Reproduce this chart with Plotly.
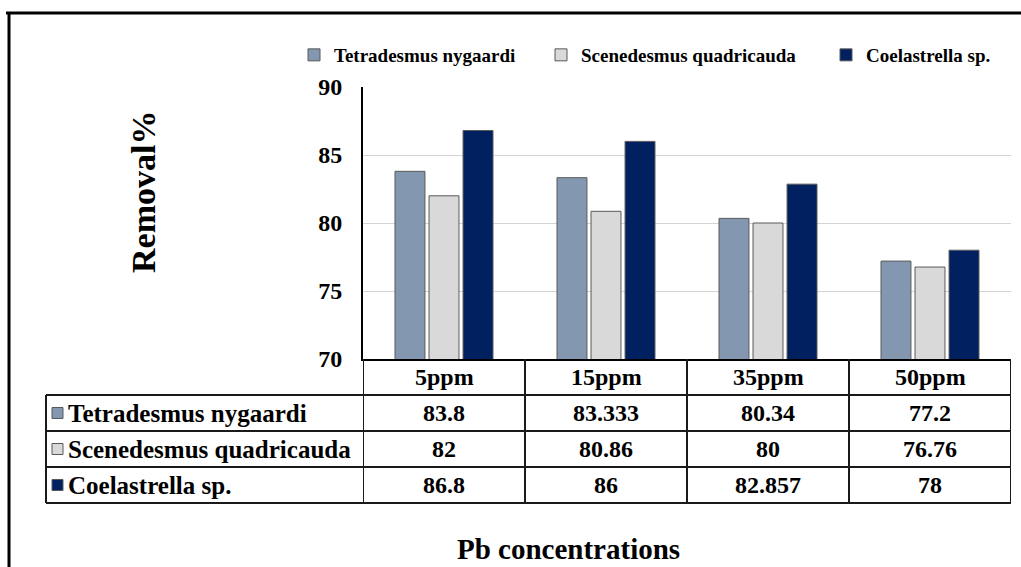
import plotly.graph_objects as go

# ---------------- data ----------------
categories = ["5ppm", "15ppm", "35ppm", "50ppm"]
series_names = ["Tetradesmus nygaardi", "Scenedesmus quadricauda", "Coelastrella sp."]
tetradesmus = [83.8, 83.333, 80.34, 77.2]
scenedesmus = [82, 80.86, 80, 76.76]
coelastrella = [86.8, 86, 82.857, 78]
y_ticks = [70, 75, 80, 85, 90]

series_values = [tetradesmus, scenedesmus, coelastrella]
colors = ["#8497B0", "#D9D9D9", "#002060"]
outline = "#595959"
FONT = "Liberation Serif"

W, H = 1021, 567


def px(xp):
    return xp / W


def py(yp):
    return 1 - yp / H


fig = go.Figure()
legend_widths = [202, 240, 150]
for name, vals, col, lw in zip(series_names, series_values, colors, legend_widths):
    fig.add_trace(go.Bar(
        x=categories, y=vals, name=name,
        marker=dict(color=col, line=dict(color=outline, width=1)),
        legendwidth=lw,
    ))

plot_left, plot_right = 363, 1011
plot_top, plot_bottom = 87, 359

fig.update_layout(
    width=W, height=H, autosize=False,
    margin=dict(l=0, r=0, t=0, b=0, pad=0, autoexpand=False),
    paper_bgcolor="white", plot_bgcolor="white",
    barmode="group", bargap=0.37, bargroupgap=0.12,
    showlegend=True,
    legend=dict(
        orientation="h", x=px(294), y=py(55), xanchor="left", yanchor="middle",
        font=dict(family=FONT, size=19, color="black", weight="bold"),
        itemwidth=30, traceorder="normal", bgcolor="rgba(0,0,0,0)",
    ),
    xaxis=dict(
        domain=[px(plot_left), px(plot_right)], range=[-0.5, len(categories) - 0.5],
        showticklabels=False, ticks="", showgrid=False, automargin=False,
        showline=True, linecolor="black", linewidth=2, zeroline=False,
    ),
    yaxis=dict(
        domain=[py(plot_bottom), py(plot_top)], range=[y_ticks[0], y_ticks[-1]],
        tickvals=y_ticks, showgrid=True, gridcolor="#D4D4D4", gridwidth=1,
        showline=True, linecolor="black", linewidth=2, zeroline=False,
        ticks="", ticklabelstandoff=14, automargin=False,
        tickfont=dict(family=FONT, size=24, color="black", weight="bold"),
    ),
)

shapes = []
annotations = []
line = dict(color="#1a1a1a", width=2)

# outer frame (top and left)
shapes.append(dict(type="line", xref="paper", yref="paper", x0=px(6), x1=1, y0=py(13), y1=py(13),
                   line=dict(color="black", width=3)))
shapes.append(dict(type="line", xref="paper", yref="paper", x0=px(9), x1=px(9), y0=py(12), y1=0,
                   line=dict(color="black", width=3)))

# table geometry
row_edges = [359, 395, 431, 467, 503]
table_left = 46
n = len(categories)

for ye in row_edges[1:]:
    shapes.append(dict(type="line", xref="paper", yref="paper", x0=px(table_left), x1=px(plot_right),
                       y0=py(ye), y1=py(ye), line=line))
shapes.append(dict(type="line", xref="paper", yref="paper", x0=px(table_left), x1=px(table_left),
                   y0=py(row_edges[1]), y1=py(row_edges[-1]), line=line))
for i in range(n + 1):
    shapes.append(dict(type="line", xref="x", yref="paper", x0=i - 0.5, x1=i - 0.5,
                       y0=py(row_edges[0]), y1=py(row_edges[-1]), line=line))

cell_font = dict(family=FONT, size=24, color="black")
label_font = dict(family=FONT, size=25, color="black")
hy = (row_edges[0] + row_edges[1]) / 2
for i, c in enumerate(categories):
    annotations.append(dict(x=c, y=py(hy), xref="x", yref="paper", text="<b>%s</b>" % c,
                            showarrow=False, font=cell_font, xanchor="center", yanchor="middle"))

for r, (name, vals, col) in enumerate(zip(series_names, series_values, colors)):
    yc = (row_edges[r + 1] + row_edges[r + 2]) / 2
    shapes.append(dict(type="rect", xref="paper", yref="paper", x0=px(52), x1=px(63),
                       y0=py(yc - 5.5), y1=py(yc + 5.5), fillcolor=col,
                       line=dict(color=outline, width=1)))
    annotations.append(dict(x=px(66), y=py(yc), xref="paper", yref="paper", text="<b>%s</b>" % name,
                            showarrow=False, font=label_font, xanchor="left", yanchor="middle"))
    for c, v in zip(categories, vals):
        annotations.append(dict(x=c, y=py(yc), xref="x", yref="paper", text="<b>%s</b>" % format(v, "g"),
                                showarrow=False, font=cell_font, xanchor="center", yanchor="middle"))

annotations.append(dict(x=px(143), y=py(192), xref="paper", yref="paper", text="<b>Removal%</b>",
                        textangle=-90, showarrow=False,
                        font=dict(family=FONT, size=34, color="black"),
                        xanchor="center", yanchor="middle"))
annotations.append(dict(x=px(568), y=py(549), xref="paper", yref="paper", text="<b>Pb concentrations</b>",
                        showarrow=False, font=dict(family=FONT, size=29, color="black"),
                        xanchor="center", yanchor="middle"))

fig.update_layout(shapes=shapes, annotations=annotations)
fig.write_html("out.html", config={"displayModeBar": False},
               post_script="document.body.style.margin='0';document.body.style.overflow='hidden';")
